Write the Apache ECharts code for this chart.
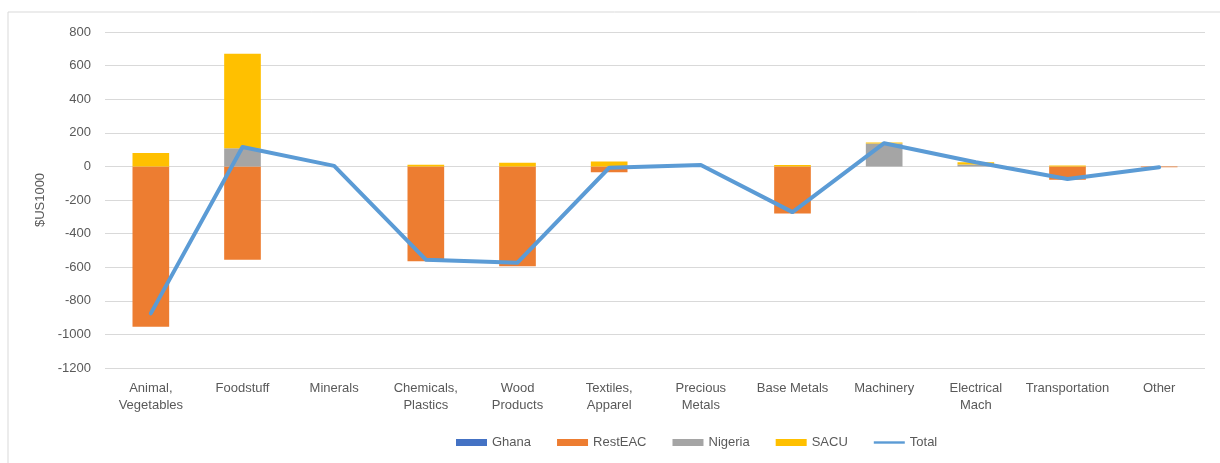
<!DOCTYPE html>
<html>
<head>
<meta charset="utf-8">
<script src="https://cdn.jsdelivr.net/npm/echarts@6/dist/echarts.min.js"></script>
<style>
  body { margin: 0; background: #fff; }
  #main { width: 1220px; height: 463px; }
</style>
</head>
<body>
<div id="main"></div>
<script>
// categories, x axis
var categories = ['Animal,\nVegetables', 'Foodstuff', 'Minerals', 'Chemicals,\nPlastics', 'Wood\nProducts',
    'Textiles,\nApparel', 'Precious\nMetals', 'Base Metals', 'Machinery', 'Electrical\nMach', 'Transportation', 'Other'];

// stacked bars, $US1000
var ghana   = [0, 0, 0, 0, 0, 0, 0, 0, 0, 0, 0, 0];
var restEAC = [-955, -555, 0, -565, -594, -35, 0, -280, 0, 0, -80, -5];
var nigeria = [0, 108, 0, 0, 0, 0, 0, 0, 136, 12, 0, 0];
var sacu    = [80, 562, 0, 10, 21, 29, 0, 8, 7, 13, 5, 0];
// line
var total   = [-875, 115, 3, -555, -573, -8, 8, -272, 138, 25, -75, -5];

var axisMin = -1200;
var axisMax = 800;
var axisStep = 200;

var textColor = '#595959';
var fontName = 'Liberation Sans';

var myChart = echarts.init(document.getElementById('main'));

function barSeries(name, data, color) {
    return {
        name: name,
        type: 'bar',
        stack: 'all',
        barCategoryGap: '60%',
        itemStyle: { color: color },
        emphasis: { disabled: true },
        data: data
    };
}

var option = {
    animation: false,
    textStyle: { fontFamily: fontName },
    // chart border
    graphic: [{
        type: 'rect',
        shape: { x: 8, y: 12, width: 1230, height: 470 },
        style: { fill: 'none', stroke: '#D9D9D9', lineWidth: 1 },
        silent: true
    }],
    grid: {
        left: 105,
        right: 15,
        top: 32,
        bottom: 95
    },
    legend: {
        left: 451,
        top: 431,
        itemWidth: 31,
        itemHeight: 7,
        itemGap: 26,
        textStyle: { color: textColor, fontSize: 13, fontFamily: fontName },
        data: [
            { name: 'Ghana', icon: 'rect' },
            { name: 'RestEAC', icon: 'rect' },
            { name: 'Nigeria', icon: 'rect' },
            { name: 'SACU', icon: 'rect' },
            { name: 'Total', icon: 'path://M0,0 M0,2.3 L31,2.3 L31,4.7 L0,4.7 Z M31,7' }
        ]
    },
    xAxis: {
        type: 'category',
        data: categories,
        axisLine: { show: false },
        axisTick: { show: false },
        axisLabel: {
            color: textColor,
            fontSize: 13,
            lineHeight: 17,
            margin: 12,
            interval: 0
        }
    },
    yAxis: {
        type: 'value',
        min: axisMin,
        max: axisMax,
        interval: axisStep,
        name: '$US1000',
        nameLocation: 'middle',
        nameGap: 54,
        nameTextStyle: { color: textColor, fontSize: 13 },
        axisLine: { show: false },
        axisTick: { show: false },
        axisLabel: {
            color: textColor,
            fontSize: 13,
            margin: 14,
            formatter: function (v) { return String(v); }
        },
        splitLine: { lineStyle: { color: '#D9D9D9', width: 1 } }
    },
    series: [
        barSeries('Ghana', ghana, '#4472C4'),
        barSeries('RestEAC', restEAC, '#ED7D31'),
        barSeries('Nigeria', nigeria, '#A5A5A5'),
        barSeries('SACU', sacu, '#FFC000'),
        {
            name: 'Total',
            type: 'line',
            symbol: 'none',
            data: total,
            itemStyle: { color: '#5B9BD5' },
            lineStyle: { color: '#5B9BD5', width: 4, join: 'round', cap: 'round' },
            emphasis: { disabled: true },
            z: 5
        }
    ]
};

myChart.setOption(option);
</script>
</body>
</html>
